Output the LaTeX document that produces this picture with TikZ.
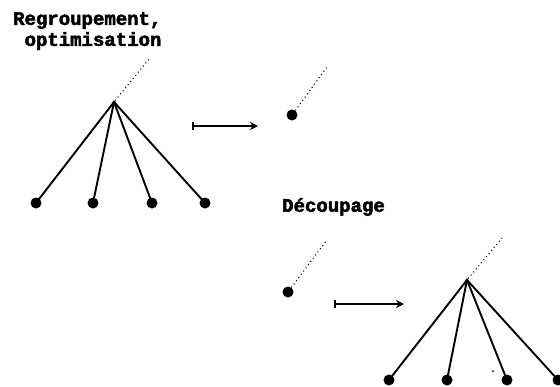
\documentclass[tikz,border=0pt]{standalone}
\usepackage{fontspec}
\setmonofont[BoldFeatures={FakeBold=2.5}]{Liberation Mono}
\usetikzlibrary{arrows.meta}
\begin{document}
\begin{tikzpicture}[x=1pt,y=-1pt,
  leaf/.style={circle,fill=black,inner sep=0pt,minimum size=11pt},
  apex/.style={circle,fill=black,inner sep=0pt,minimum size=3.5pt},
  edge/.style={line width=1.9pt},
  parent/.style={line width=1.1pt,dash pattern=on 1pt off 3pt},
  move/.style={line width=2.2pt,{Bar[width=8pt]}-{Stealth[length=8pt,width=8pt]}},
  caption/.style={font=\fontsize{19}{21}\selectfont\ttfamily\bfseries,inner sep=0pt,align=left,anchor=north west}]
\useasboundingbox (0,0) rectangle (560,386);

% regrouping: four leaves merged into one node
\node[caption] (t1) at (13,12) {Regroupement,\\\ optimisation};
\node[apex] (a1) at (114,102) {};
\coordinate (p1) at (149,59);
\node[leaf] (l11) at (36,203) {};
\node[leaf] (l12) at (93,203) {};
\node[leaf] (l13) at (152,203) {};
\node[leaf] (l14) at (205,203) {};
\foreach \l in {l11,l12,l13,l14} \draw[edge] (a1.center) -- (\l.center);
\draw[parent] (a1) -- (p1);
\coordinate (s1) at (192,126);
\coordinate (e1) at (258,126);
\draw[move] (s1) -- (e1);
\node[leaf] (m1) at (292,115) {};
\coordinate (q1) at (327,67);
\draw[parent] (m1) -- (q1);

% splitting: one node split into four leaves
\node[caption] (t2) at (282,198) {Découpage};
\node[leaf] (m2) at (288,292) {};
\coordinate (q2) at (326,241);
\draw[parent] (m2) -- (q2);
\coordinate (s2) at (334,304);
\coordinate (e2) at (404,304);
\draw[move] (s2) -- (e2);
\node[apex] (a2) at (467,280) {};
\coordinate (p2) at (502,238);
\draw[parent] (a2) -- (p2);
\node[leaf] (l21) at (389,380) {};
\node[leaf] (l22) at (447,380) {};
\node[leaf] (l23) at (507,380) {};
\node[leaf] (l24) at (558,380) {};
\foreach \l in {l21,l22,l23,l24} \draw[edge] (a2.center) -- (\l.center);
\fill (493,371) circle (1pt);
\end{tikzpicture}
\end{document}
